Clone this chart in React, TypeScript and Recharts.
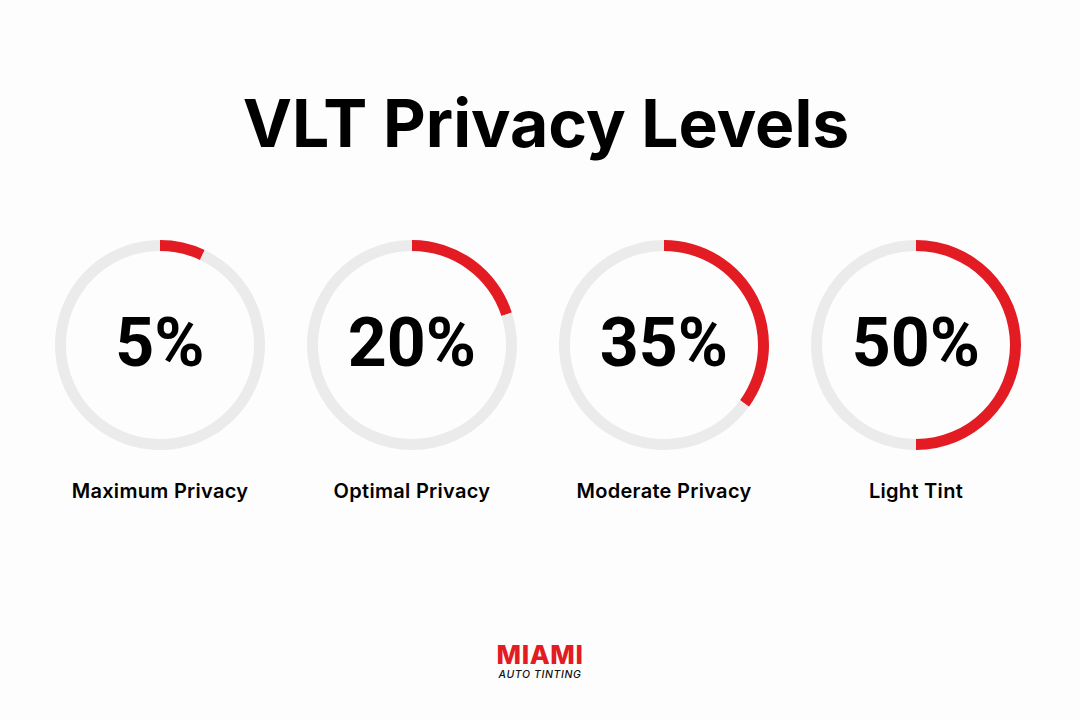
import { PieChart, Pie, Cell } from "recharts";

const levelLabels = ["5%", "20%", "35%", "50%"];
const arcValues = [7, 20, 35, 50];
const levelNames = ["Maximum Privacy", "Optimal Privacy", "Moderate Privacy", "Light Tint"];

const RED = "#e31b23";
const TRACK = "#ebebeb";
const FONT = "Inter, 'Liberation Sans', Arial, sans-serif";

const centersX = [160, 412, 664, 916];
const CY = 345;

export default function App() {
  return (
    <div
      style={{
        position: "absolute",
        left: 0,
        top: 0,
        width: 1080,
        height: 720,
        background: "#fdfdfd",
        fontFamily: FONT,
        overflow: "hidden",
      }}
    >
      <div
        style={{
          position: "absolute",
          top: 83,
          left: 6,
          width: 1080,
          textAlign: "center",
          fontSize: 66,
          fontWeight: 700,
          color: "#000",
        }}
      >
        VLT Privacy Levels
      </div>

      <div style={{ position: "absolute", left: 0, top: 0 }}>
        <PieChart width={1080} height={720} margin={{ top: 0, right: 0, bottom: 0, left: 0 }}>
          {arcValues.map((v, i) => (
            <Pie
              key={levelNames[i]}
              data={[
                { name: levelNames[i], value: v },
                { name: "rest", value: 100 - v },
              ]}
              dataKey="value"
              cx={centersX[i]}
              cy={CY}
              innerRadius={94}
              outerRadius={105}
              startAngle={90}
              endAngle={-270}
              stroke="none"
              paddingAngle={0}
              isAnimationActive={false}
            >
              <Cell fill={RED} />
              <Cell fill={TRACK} />
            </Pie>
          ))}
        </PieChart>
      </div>

      {levelLabels.map((t, i) => (
        <div
          key={t}
          style={{
            position: "absolute",
            left: centersX[i] - 110,
            width: 220,
            top: CY - 42,
            textAlign: "center",
            fontFamily: "Roboto, 'Liberation Sans', sans-serif",
            fontSize: 68,
            fontWeight: 700,
            lineHeight: "80px",
            color: "#000",
          }}
        >
          {t}
        </div>
      ))}

      {levelNames.map((n, i) => (
        <div
          key={n}
          style={{
            position: "absolute",
            left: centersX[i] - 125,
            width: 250,
            top: 477,
            textAlign: "center",
            fontSize: 20,
            fontWeight: 600,
            lineHeight: "28px",
            letterSpacing: 0.3,
            color: "#000",
          }}
        >
          {n}
        </div>
      ))}

      <div
        style={{
          position: "absolute",
          left: 0,
          width: 1080,
          top: 641,
          textAlign: "center",
        }}
      >
        <div style={{ fontSize: 26, fontWeight: 800, color: RED, lineHeight: "28px", letterSpacing: 0.6 }}>
          MIAMI
        </div>
        <div
          style={{
            fontSize: 10.5,
            fontStyle: "italic",
            fontWeight: 500,
            color: "#111",
            lineHeight: "12px",
            letterSpacing: 0.6,
          }}
        >
          AUTO TINTING
        </div>
      </div>
    </div>
  );
}
